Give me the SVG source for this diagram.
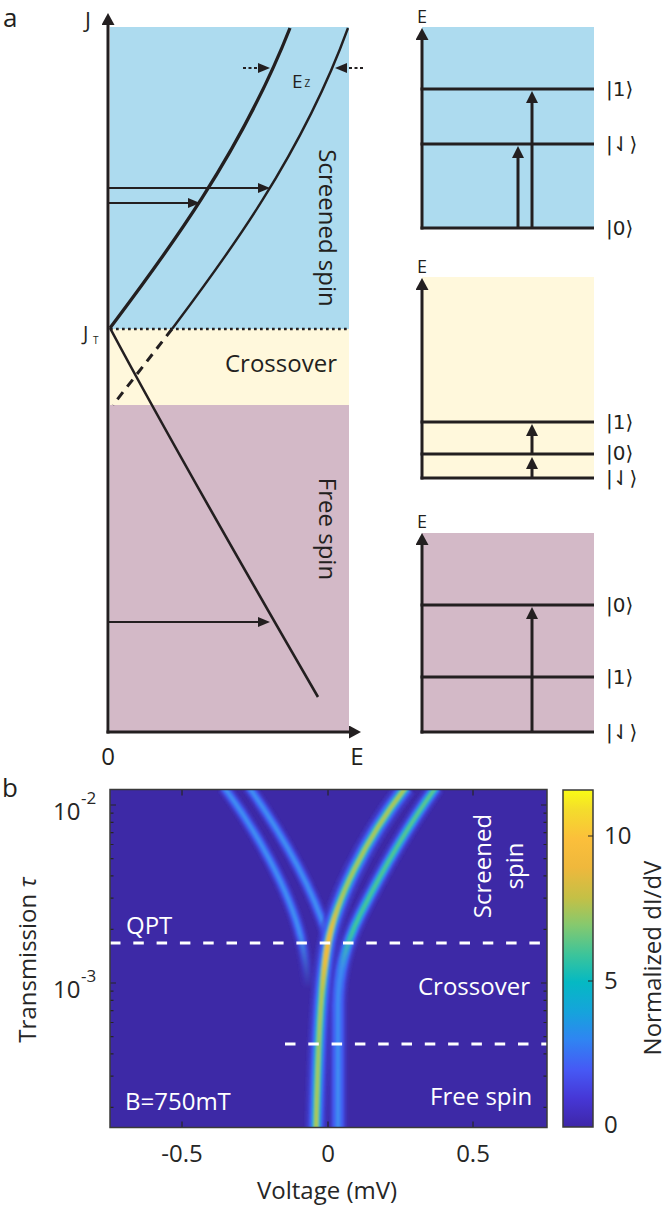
<svg xmlns="http://www.w3.org/2000/svg" width="666" height="1206" viewBox="0 0 666 1206">
<style>
text { font-family: "Open Sans", "DejaVu Sans", sans-serif; fill: #231f20; }
.t24 { font-size: 24px; }
.ket { font-family: "DejaVu Sans", sans-serif; font-size: 20px; }
.ax { stroke: #231f20; stroke-width: 3; fill: none; }
.lvl { stroke: #231f20; stroke-width: 3; fill: none; }
.arr { stroke: #231f20; stroke-width: 3; fill: none; }
.harr { stroke: #231f20; stroke-width: 2.2; fill: none; }
.dot { stroke: #231f20; stroke-width: 2.2; stroke-dasharray: 3 2.5; fill: none; }
.bl { fill: #addbef; }
.cr { fill: #fff8dc; }
.mv { fill: #d3b9c7; }
.wt { fill: #ffffff; font-size: 24px; }
.bt { fill: #262626; font-size: 24px; }
.tk { stroke: #262626; stroke-width: 1.2; fill: none; }
.wd { stroke: #ffffff; stroke-width: 2.8; stroke-dasharray: 10.5 12.8; fill: none; }
.f1 { stroke: #3f3fd4; stroke-width: 14; stroke-opacity: 0.55; fill: none; }
.f2 { stroke: #4257ee; stroke-width: 9; fill: none; }
.f3 { stroke: #3a78f4; stroke-width: 5; fill: none; }
.f4 { stroke: #4290f2; stroke-width: 2.5; fill: none; }
.b1 { stroke: #3f3fd4; stroke-width: 22; stroke-opacity: 0.55; fill: none; }
.b2 { stroke: #4257ee; stroke-width: 15; fill: none; }
.b3 { stroke: #2a8cec; stroke-width: 10; fill: none; }
.b4 { stroke: url(#gB4); stroke-width: 6.5; fill: none; }
.b5 { stroke: url(#gB5); stroke-width: 3.5; fill: none; }
.r1 { stroke: #3f3fd4; stroke-width: 18; stroke-opacity: 0.55; fill: none; }
.r2 { stroke: #4257ee; stroke-width: 12; fill: none; }
.r3 { stroke: url(#gR3); stroke-width: 8; fill: none; }
.r4 { stroke: url(#gR4); stroke-width: 5; fill: none; }
.r5 { stroke: url(#gR5); stroke-width: 2.5; fill: none; }
</style>
<defs>
<marker id="axh" markerUnits="userSpaceOnUse" markerWidth="13" markerHeight="13" refX="1" refY="6.5" orient="auto"><path d="M0,0 L12,6.5 L0,13 z" fill="#231f20"/></marker>
<marker id="ah" markerUnits="userSpaceOnUse" markerWidth="12" markerHeight="12" refX="1" refY="6" orient="auto"><path d="M0,0 L12,6 L0,12 z" fill="#231f20"/></marker>
<marker id="ahs" markerUnits="userSpaceOnUse" markerWidth="12" markerHeight="10" refX="1" refY="5" orient="auto"><path d="M0,0 L12,5 L0,10 z" fill="#231f20"/></marker>
<linearGradient id="parula" x1="0" y1="1" x2="0" y2="0">
<stop offset="0" stop-color="#3e26a8"/><stop offset="0.085" stop-color="#4637d6"/><stop offset="0.17" stop-color="#4659f5"/><stop offset="0.26" stop-color="#2f85f2"/><stop offset="0.34" stop-color="#16a3dc"/><stop offset="0.43" stop-color="#05b9c3"/><stop offset="0.51" stop-color="#3bc49b"/><stop offset="0.6" stop-color="#86c96e"/><stop offset="0.68" stop-color="#c4c046"/><stop offset="0.77" stop-color="#efb83c"/><stop offset="0.855" stop-color="#fbbf3b"/><stop offset="0.94" stop-color="#f4dc2c"/><stop offset="1" stop-color="#f9fb15"/>
</linearGradient>
<linearGradient id="gB4" gradientUnits="userSpaceOnUse" x1="0" y1="789" x2="0" y2="1128">
<stop offset="0" stop-color="#3cc49d"/><stop offset="0.327" stop-color="#3cc49d"/><stop offset="0.43" stop-color="#8fc868"/><stop offset="0.475" stop-color="#b8c24c"/><stop offset="0.534" stop-color="#8fc868"/><stop offset="0.622" stop-color="#3cc49d"/><stop offset="1" stop-color="#3cc49d"/>
</linearGradient>
<linearGradient id="gB5" gradientUnits="userSpaceOnUse" x1="0" y1="789" x2="0" y2="1128">
<stop offset="0" stop-color="#aec752"/><stop offset="0.3" stop-color="#a5c85c"/><stop offset="0.4" stop-color="#e0bf44"/><stop offset="0.457" stop-color="#fab83a"/><stop offset="0.51" stop-color="#f0bb3e"/><stop offset="0.6" stop-color="#b5c64f"/><stop offset="0.75" stop-color="#9fc864"/><stop offset="1" stop-color="#b3c650"/>
</linearGradient>
<linearGradient id="gR3" gradientUnits="userSpaceOnUse" x1="0" y1="789" x2="0" y2="1128">
<stop offset="0" stop-color="#2a8cec"/><stop offset="0.46" stop-color="#2a8cec"/><stop offset="0.62" stop-color="#4262f2"/><stop offset="1" stop-color="#4262f2"/>
</linearGradient>
<linearGradient id="gR4" gradientUnits="userSpaceOnUse" x1="0" y1="789" x2="0" y2="1128">
<stop offset="0" stop-color="#23bcb4"/><stop offset="0.43" stop-color="#23bcb4"/><stop offset="0.55" stop-color="#3a7cf4"/><stop offset="1" stop-color="#3a7cf4"/>
</linearGradient>
<linearGradient id="gR5" gradientUnits="userSpaceOnUse" x1="0" y1="789" x2="0" y2="1128">
<stop offset="0" stop-color="#66c784"/><stop offset="0.42" stop-color="#47c39a"/><stop offset="0.53" stop-color="#3f8df2"/><stop offset="1" stop-color="#4190f2"/>
</linearGradient>
<linearGradient id="olfade" x1="0" y1="0" x2="0" y2="1">
<stop offset="0" stop-color="#fff"/><stop offset="0.43" stop-color="#fff"/><stop offset="0.58" stop-color="#000"/><stop offset="1" stop-color="#000"/>
</linearGradient>
<mask id="olmask" maskUnits="userSpaceOnUse" x="100" y="780" width="460" height="360"><rect x="100" y="780" width="460" height="360" fill="url(#olfade)"/></mask>
<clipPath id="plotclip"><rect x="110" y="790" width="437" height="337"/></clipPath>
<filter id="soft" filterUnits="userSpaceOnUse" x="100" y="770" width="470" height="380"><feGaussianBlur stdDeviation="1.2"/></filter>
<path id="pOL" d="M224,787 C254,828 289,888 301,938 C305,956 307,970 308,990"/>
<path id="pIL" d="M249,787 C274,823 309,878 327,935"/>
<path id="pB" d="M316,1130 C318,1050 320,990 328,943 C336,900 365,840 406,787"/>
<path id="pR2" d="M338,1130 L338,1005 C338,975 345,945 360,915 C380,875 405,830 436,787"/>
</defs>

<rect width="666" height="1206" fill="#ffffff"/>

<!-- Panel a, left -->
<g id="region-screened"><rect class="bl" x="110" y="27" width="239" height="302"/>
<text class="t24" transform="translate(319,228) rotate(90)" text-anchor="middle">Screened spin</text></g>
<g id="region-crossover"><rect class="cr" x="110" y="329" width="239" height="76"/>
<text class="t24" x="225" y="372">Crossover</text></g>
<g id="region-free"><rect class="mv" x="110" y="405" width="239" height="326"/>
<text class="t24" transform="translate(319,529) rotate(90)" text-anchor="middle">Free spin</text></g>

<g id="panel-a-axes">
<text x="3" y="27" style="font-size:26px">a</text>
<line class="ax" x1="108" y1="733.5" x2="108" y2="24" marker-end="url(#axh)"/>
<line class="ax" x1="106.5" y1="732" x2="350" y2="732" marker-end="url(#axh)"/>
<text x="85" y="28" style="font-size:22px">J</text>
<text x="83" y="340" style="font-size:20px">J</text><text x="93" y="344" style="font-size:10px">T</text>
<text x="108" y="765" text-anchor="middle" class="t24">0</text>
<text x="357" y="765" text-anchor="middle" class="t24">E</text>
<text x="292" y="88" style="font-size:19px">E</text><text x="304.5" y="87" style="font-size:10px">Z</text>
</g>

<g id="connectors-a">
<line x1="110" y1="329" x2="348" y2="329" stroke="#231f20" stroke-width="2.6" stroke-dasharray="2.7 3.3"/>
<path d="M110,328 C158,264 238,160 290,28" stroke="#231f20" stroke-width="3.3" fill="none"/>
<path d="M172,329 C220,265 300,160 348,28" stroke="#231f20" stroke-width="2.4" fill="none"/>
<line x1="172" y1="329" x2="113" y2="405" stroke="#231f20" stroke-width="3" stroke-dasharray="9 7"/>
<path d="M110,328 Q175,450 318,697" stroke="#231f20" stroke-width="2.6" fill="none"/>
<line class="harr" x1="109" y1="188" x2="259" y2="188" marker-end="url(#ahs)"/>
<line class="harr" x1="109" y1="203" x2="189" y2="203" marker-end="url(#ahs)"/>
<line class="harr" x1="109" y1="622" x2="259" y2="622" marker-end="url(#ahs)"/>
<line class="dot" x1="243" y1="68" x2="259" y2="68" marker-end="url(#ahs)"/>
<line class="dot" x1="363" y1="68" x2="346" y2="68" marker-end="url(#ahs)"/>
</g>

<!-- Panel a, right: level diagrams -->
<g id="levels-screened">
<rect class="bl" x="422" y="27" width="172" height="201"/>
<line class="ax" x1="422" y1="229.5" x2="422" y2="39" marker-end="url(#axh)"/>
<text x="417" y="23" style="font-size:18px">E</text>
<line class="lvl" x1="420.5" y1="89" x2="594" y2="89"/>
<line class="lvl" x1="420.5" y1="144" x2="594" y2="144"/>
<line class="lvl" x1="420.5" y1="228" x2="594" y2="228"/>
<line class="arr" x1="518" y1="228" x2="518" y2="157" marker-end="url(#ah)"/>
<line class="arr" x1="532" y1="228" x2="532" y2="102" marker-end="url(#ah)"/>
<text class="ket" x="606" y="96">|1⟩</text>
<text class="ket" x="606" y="151">|⇃⟩</text>
<text class="ket" x="606" y="235">|0⟩</text>
</g>
<g id="levels-crossover">
<rect class="cr" x="422" y="277" width="172" height="201"/>
<line class="ax" x1="422" y1="479.5" x2="422" y2="289" marker-end="url(#axh)"/>
<text x="417" y="273" style="font-size:18px">E</text>
<line class="lvl" x1="420.5" y1="422" x2="594" y2="422"/>
<line class="lvl" x1="420.5" y1="454" x2="594" y2="454"/>
<line class="lvl" x1="420.5" y1="478" x2="594" y2="478"/>
<line class="arr" x1="532" y1="478" x2="532" y2="468" marker-end="url(#ah)"/>
<line class="arr" x1="532" y1="454" x2="532" y2="435" marker-end="url(#ah)"/>
<text class="ket" x="606" y="429">|1⟩</text>
<text class="ket" x="606" y="460">|0⟩</text>
<text class="ket" x="606" y="485">|⇃⟩</text>
</g>
<g id="levels-free">
<rect class="mv" x="422" y="533" width="172" height="199"/>
<line class="ax" x1="422" y1="733.5" x2="422" y2="544" marker-end="url(#axh)"/>
<text x="417" y="528" style="font-size:18px">E</text>
<line class="lvl" x1="420.5" y1="605" x2="594" y2="605"/>
<line class="lvl" x1="420.5" y1="677" x2="594" y2="677"/>
<line class="lvl" x1="420.5" y1="732" x2="594" y2="732"/>
<line class="arr" x1="532" y1="732" x2="532" y2="618" marker-end="url(#ah)"/>
<text class="ket" x="606" y="612">|0⟩</text>
<text class="ket" x="606" y="684">|1⟩</text>
<text class="ket" x="606" y="739">|⇃⟩</text>
</g>

<!-- Panel b -->
<g id="panel-b-map">
<text x="2" y="797" style="font-size:26px">b</text>
<rect x="110" y="789.5" width="437" height="338" fill="#3d29a6"/>
<g clip-path="url(#plotclip)">
<g filter="url(#soft)">
<g mask="url(#olmask)">
<use href="#pOL" class="f1"/><use href="#pOL" class="f2"/><use href="#pOL" class="f3"/><use href="#pOL" class="f4"/>
</g>
<use href="#pIL" class="f1"/><use href="#pIL" class="f2"/><use href="#pIL" class="f3"/><use href="#pIL" class="f4"/>
<use href="#pR2" class="r1"/><use href="#pR2" class="r2"/><use href="#pR2" class="r3"/><use href="#pR2" class="r4"/><use href="#pR2" class="r5"/>
<use href="#pB" class="b1"/><use href="#pB" class="b2"/><use href="#pB" class="b3"/><use href="#pB" class="b4"/><use href="#pB" class="b5"/>
</g>
</g>
<line class="wd" x1="110" y1="943" x2="547" y2="943"/>
<line class="wd" x1="285" y1="1044" x2="547" y2="1044"/>
<text class="wt" x="126" y="934">QPT</text>
<text class="wt" x="125" y="1110">B=750mT</text>
<text class="wt" x="418" y="995">Crossover</text>
<text class="wt" x="430" y="1105">Free spin</text>
<text class="wt" transform="translate(491,866) rotate(-90)" text-anchor="middle">Screened</text>
<text class="wt" transform="translate(523,866) rotate(-90)" text-anchor="middle">spin</text>
<path class="tk" d="M110,805h6 M110,983h6 M547,805h-6 M547,983h-6 M182,789.5v6 M328,789.5v6 M473,789.5v6 M182,1127.5v-6 M328,1127.5v-6 M473,1127.5v-6"/>
<path class="tk" d="M110,813.1h3.5 M110,822.3h3.5 M110,832.6h3.5 M110,844.5h3.5 M110,858.6h3.5 M110,875.8h3.5 M110,898.1h3.5 M110,929.4h3.5 M110,991.1h3.5 M110,1000.3h3.5 M110,1010.6h3.5 M110,1022.5h3.5 M110,1036.6h3.5 M110,1053.8h3.5 M110,1076.1h3.5 M110,1107.4h3.5 M547,813.1h-3.5 M547,822.3h-3.5 M547,832.6h-3.5 M547,844.5h-3.5 M547,858.6h-3.5 M547,875.8h-3.5 M547,898.1h-3.5 M547,929.4h-3.5 M547,991.1h-3.5 M547,1000.3h-3.5 M547,1010.6h-3.5 M547,1022.5h-3.5 M547,1036.6h-3.5 M547,1053.8h-3.5 M547,1076.1h-3.5 M547,1107.4h-3.5"/>
<rect x="110" y="789.5" width="437" height="338" fill="none" stroke="#3a3a3a" stroke-width="1.5"/>
</g>

<g id="panel-b-axes">
<text class="bt" x="53" y="820">10</text><text x="81" y="804" style="font-size:17px;fill:#262626">-2</text>
<text class="bt" x="53" y="998">10</text><text x="81" y="982" style="font-size:17px;fill:#262626">-3</text>
<text class="bt" transform="translate(36,960) rotate(-90)" text-anchor="middle">Transmission <tspan font-style="italic">τ</tspan></text>
<text class="bt" x="182" y="1162" text-anchor="middle">-0.5</text>
<text class="bt" x="328" y="1162" text-anchor="middle">0</text>
<text class="bt" x="473" y="1162" text-anchor="middle">0.5</text>
<text class="bt" x="327" y="1199" text-anchor="middle">Voltage (mV)</text>
</g>

<g id="colorbar">
<rect x="563" y="790" width="30" height="337" fill="url(#parula)" stroke="#3a3a3a" stroke-width="1.5"/>
<path class="tk" d="M593,836h-5 M593,981h-5"/>
<text class="bt" x="604" y="844">10</text>
<text class="bt" x="604" y="989">5</text>
<text class="bt" x="604" y="1133">0</text>
<text class="bt" transform="translate(661,958) rotate(-90)" text-anchor="middle">Normalized dI/dV</text>
</g>
</svg>
